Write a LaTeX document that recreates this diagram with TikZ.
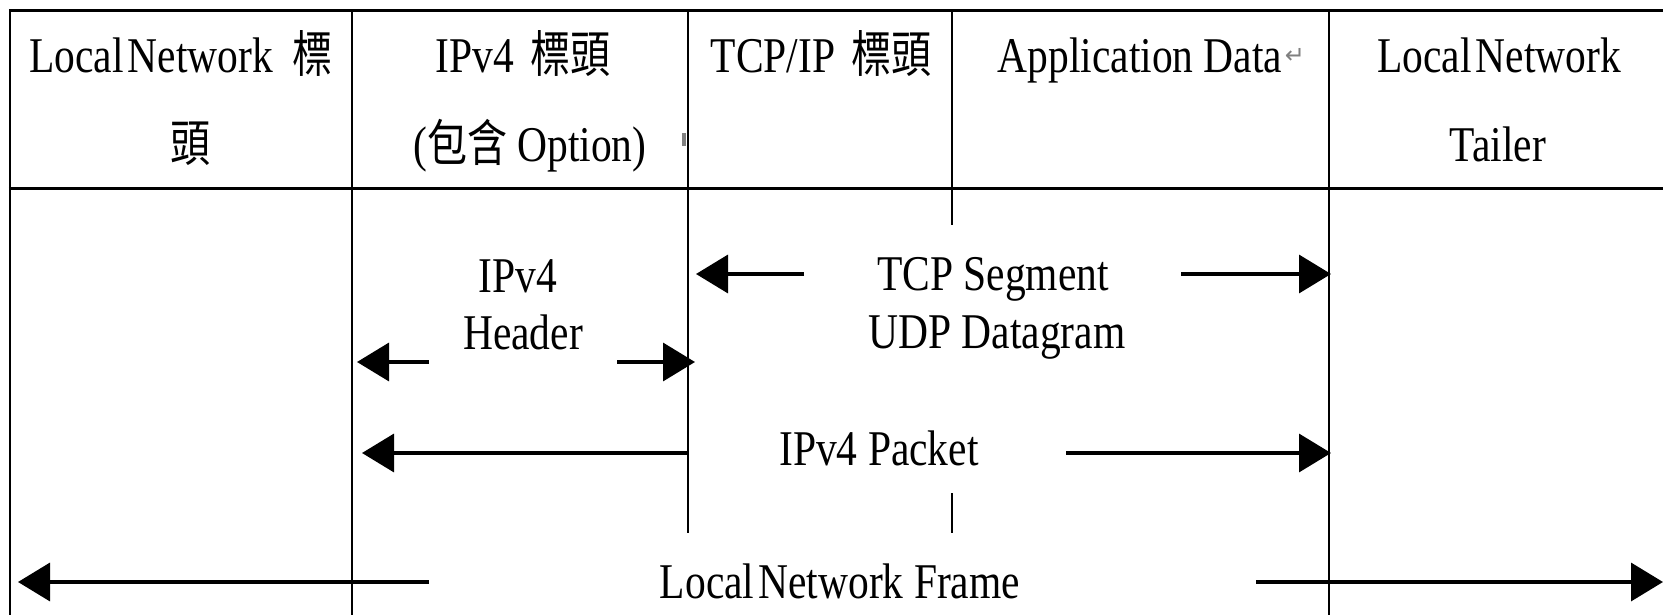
\documentclass[tikz,border=0pt]{standalone}
\usepackage{fontspec}
\setmainfont[FakeStretch=0.83]{Liberation Serif}
\newfontfamily\cjk[FakeStretch=0.8]{Noto Sans CJK TC}
\newfontfamily\symf{DejaVu Sans}
\usetikzlibrary{arrows.meta}
\begin{document}
\begin{tikzpicture}[x=1pt,y=-1pt,
  txt/.style={inner sep=0pt, anchor=base, font=\fontsize{50}{50}\selectfont},
  hline/.style={line width=3pt},
  vline/.style={line width=2.2pt},
  arr/.style={line width=3.5pt, -{Triangle[length=32pt,width=38pt]}}]
\useasboundingbox (0,0) rectangle (1663,615);
% table grid
\draw[hline] (8.9,11) -- (1663,11);
\draw[hline] (8.9,188) -- (1663,188);
\draw[vline] (10,11) -- (10,615);
\draw[vline] (352,11) -- (352,615);
\draw[vline] (688,11) -- (688,533);
\draw[vline] (952,11) -- (952,225);
\draw[vline] (952,493) -- (952,533);
\draw[vline] (1329,11) -- (1329,615);
\fill[gray] (682,133) rectangle (686,146);
% header texts
\node[txt] (h1a) at (181,73) {Local\hspace{4pt}Network\hspace{20pt}{\cjk 標}};
\node[txt] (h1b) at (190,162) {{\cjk 頭}};
\node[txt] (h2a) at (523,73) {IPv4\hspace{16pt}{\cjk 標頭}};
\node[txt] (h2b) at (530,162) {({\cjk 包含}\hspace{10pt}Option)};
\node[txt] (h3) at (821,73) {TCP/IP\hspace{16pt}{\cjk 標頭}};
\node[txt] (h4) at (1140,73) {Application Data};
\node[inner sep=0pt, text=gray, font=\symf\fontsize{24}{24}\selectfont] (ret) at (1295,56) {↵};
\node[txt] (h5a) at (1499,73) {Local\hspace{4pt}Network};
\node[txt] (h5b) at (1498,162) {Tailer};
% body texts
\node[txt] (ipv4) at (518,292) {IPv4};
\node[txt] (hdr) at (523,349) {Header};
\node[txt] (tcp) at (993,290) {TCP Segment};
\node[txt] (udp) at (997,348) {UDP Datagram};
\node[txt] (pkt) at (879,465) {IPv4 Packet};
\node[txt] (frm) at (840,598) {Local\hspace{4pt}Network Frame};
% arrows
\coordinate (a1t) at (429,362); \coordinate (a1h) at (357,362);
\coordinate (a2t) at (617,362); \coordinate (a2h) at (695,362);
\coordinate (a3t) at (804,274); \coordinate (a3h) at (696,274);
\coordinate (a4t) at (1181,274); \coordinate (a4h) at (1331,274);
\coordinate (a5t) at (688,453); \coordinate (a5h) at (362,453);
\coordinate (a6t) at (1066,453); \coordinate (a6h) at (1331,453);
\coordinate (a7t) at (429,582); \coordinate (a7h) at (18,582);
\coordinate (a8t) at (1256,582); \coordinate (a8h) at (1663,582);
\draw[arr] (a1t) -- (a1h);
\draw[arr] (a2t) -- (a2h);
\draw[arr] (a3t) -- (a3h);
\draw[arr] (a4t) -- (a4h);
\draw[arr] (a5t) -- (a5h);
\draw[arr] (a6t) -- (a6h);
\draw[arr] (a7t) -- (a7h);
\draw[arr] (a8t) -- (a8h);
\end{tikzpicture}
\end{document}
